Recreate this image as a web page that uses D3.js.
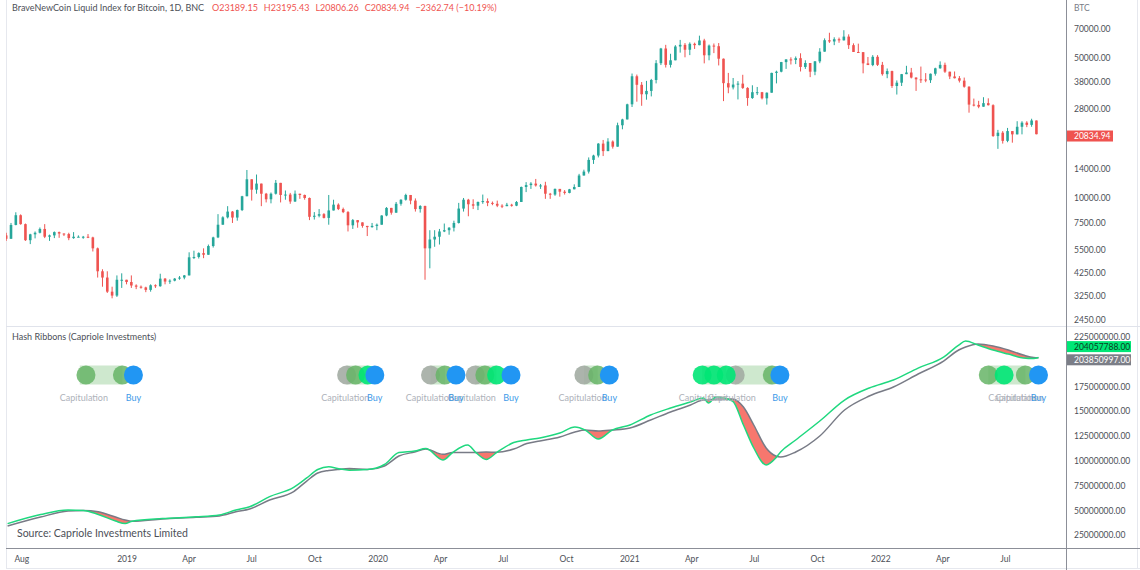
<!DOCTYPE html>
<html>
<head>
<meta charset="utf-8">
<script src="https://cdn.jsdelivr.net/npm/d3@7"></script>
<style>
  body { margin: 0; background: #fff; }
  svg { display: block; font-family: Lato, "Open Sans", sans-serif; }
</style>
</head>
<body>
<svg id="chart" width="1140" height="570"></svg>
<script>
// ---- price: weekly BNC candles, one per Friday from 2018-07-13, open = previous close
const firstWeek = '2018-07-13';
const firstOpen = 6500;
const close = [
  // 2018
  6250,7330,8200,7400,6150,6580,6700,7000,6400,6500,6750,6640,6600,6300,6400,6400,6400,6350,5600,4300,4000,3400,3250,3900,3900,
  // 2019
  3800,3650,3600,3570,3470,3660,3620,3950,3820,3860,3950,4000,4100,5050,5070,5300,5200,5750,6350,7350,8000,8550,7980,8700,10200,12400,
  11000,11800,10500,9850,10500,11900,10350,10400,9600,10500,10350,10000,8050,8150,8300,7950,8660,9260,8800,8500,7300,7750,7550,7250,7150,7250,
  // 2020
  7350,8170,8920,8440,9350,9800,10350,9700,8800,9120,5600,6200,6400,6800,6900,7100,7500,8850,9800,9300,9150,9550,9650,9450,9350,9150,
  9100,9250,9150,9550,11350,11600,11800,11550,11550,10500,10400,11100,10750,10600,11050,11350,12950,13550,15500,16300,18700,17150,19150,18050,23100,24700,
  // 2021
  29400,40600,36800,33000,34300,38900,47200,55900,46300,48800,57200,58300,55100,59000,58100,61300,51700,57800,57400,49700,37500,35700,36900,37300,35500,31600,
  33800,33800,31500,33600,42200,42800,47800,49300,49000,50000,45200,47300,42800,48200,53900,61500,60600,62200,61400,64100,58100,53700,53600,47100,46200,50800,46300,
  // 2022
  41600,43100,36300,37700,41600,42400,40000,39200,39100,38800,41800,44500,46300,42800,40500,39700,38600,36000,29300,29200,28600,29800,29100,20400,21200,19300,
  21600,20800,22700,23800,23200,24400,20834.94
];
const high = [
  6700,7500,8480,8280,7450,6620,6800,7120,7400,6560,6800,6790,6650,6700,6750,6500,6460,6600,6400,5650,4400,4300,3600,4100,4200,
  3900,4100,3700,3650,3600,3700,3700,4180,3980,3920,3980,4070,4120,5350,5450,5350,5600,5850,6400,8300,8100,9100,8600,8750,10250,13800,
  12400,13100,11800,10600,10650,12300,11900,10900,10600,10900,10500,10400,10050,8500,8800,8400,10350,9800,9400,8950,8600,7850,7750,7450,7250,7500,
  7450,8200,9000,8900,9550,9850,10500,10300,9950,9200,9150,6900,6900,7000,7450,7150,7700,9450,10000,9900,9850,9600,10400,9950,9600,9700,
  9300,9450,9350,9650,11400,12000,12000,12450,11750,12050,10600,11150,11000,10950,11100,11700,13200,13850,15950,16450,18800,19500,19900,19400,23800,24900,
  29600,41900,41400,38000,38500,39400,48900,56300,58300,52600,58100,61700,59500,60000,59800,64800,62500,58500,59200,59500,49800,42200,39800,38400,41300,35800,
  36600,35900,33900,33700,42300,43300,47900,49400,50500,51000,52900,48800,47300,48400,56100,62800,67000,63600,63400,69000,65800,59300,59100,53300,50700,51800,51800,
  47900,44400,43300,38700,41700,45800,44700,40100,45400,42100,41900,44800,48200,47500,42500,42900,40700,40000,36200,31400,30600,31900,31500,29400,21900,21600,
  22400,21000,24200,24200,24200,24900,24400
];
const low = [
  6100,6250,7300,7350,6100,5880,6280,6650,6300,6100,6300,6320,6450,6150,6250,6370,6250,6300,5400,4000,3600,3350,3150,3200,3550,
  3700,3550,3500,3520,3380,3400,3550,3600,3700,3720,3830,3900,3920,4100,4950,4980,5000,5200,5650,6300,7400,7900,7500,7700,8600,10200,
  9700,10500,9100,9500,9400,10400,9500,9800,9350,9550,9900,9800,7750,7800,8000,7900,7350,9000,8700,8400,6800,7000,7100,7100,6450,7100,
  6900,7350,8100,8250,8450,9150,9700,9300,8550,8450,3900,4450,5700,5850,6750,6550,6800,7450,8550,8100,8800,8700,9350,9100,9200,9000,
  8900,9100,9050,9100,9550,10700,11100,11400,11100,9900,9900,10250,10150,10400,10550,11200,11400,12950,13250,14800,15950,16200,17400,17650,18300,22050,
  25800,28500,30300,28900,31000,32200,37400,46200,44900,44900,49200,53300,50500,51800,55600,58000,47100,48800,53000,46000,30500,33400,34900,31100,35100,28900,
  31300,32700,31100,29300,33600,37400,42500,44200,46500,46700,42900,44200,40200,41100,47200,53900,59600,58100,59700,61300,55600,53700,53500,42000,46200,45600,45700,
  40900,39700,35500,32900,36300,41900,39600,34300,37600,37900,37600,40900,44300,42200,39300,39600,37800,35600,26700,28700,28100,28800,29000,20200,17600,18700,
  19000,18900,20800,20800,22600,22700,20806.26
];
// last daily bar shown in the header
const lastBar = [23189.15, 23195.43, 20806.26, 20834.94];
const lastChange = [-2362.74, -10.19];

// ---- hash ribbons (30d / 60d SMA of hash rate, in millions of TH/s)
const hashDates = [
  '2018-07-12','2018-08-29','2018-10-08','2018-10-30','2018-11-21','2018-12-16','2018-12-30',
  '2019-01-09','2019-02-22','2019-04-12','2019-05-16','2019-06-09','2019-06-29','2019-07-28','2019-09-01','2019-09-20','2019-10-06','2019-10-22','2019-11-04','2019-11-21','2019-12-17',
  '2020-01-11','2020-02-01','2020-02-24','2020-03-11','2020-04-05','2020-04-19','2020-05-11','2020-05-23','2020-06-07','2020-06-22','2020-07-17','2020-08-05','2020-08-24','2020-09-22','2020-10-14','2020-10-29','2020-11-17','2020-12-07',
  '2021-01-02','2021-02-01','2021-03-02','2021-03-31','2021-04-19','2021-04-26','2021-05-07','2021-05-31','2021-06-16','2021-07-01','2021-07-19','2021-08-02','2021-08-09','2021-08-31','2021-10-05','2021-11-10','2021-12-16',
  '2022-01-20','2022-02-25','2022-04-03','2022-04-25','2022-05-05','2022-05-23','2022-06-14','2022-07-06','2022-07-28','2022-08-12','2022-08-19'
];
const hashFast = [
  36.7,45.9,50.4,50.0,45.9,39.3,36.7,
  39.1,41.8,43.5,45.4,50.4,53.7,63.9,73.2,82.7,91.2,93.9,92.2,90.6,91.2,
  96.3,108.3,109.9,112.3,100.8,108.3,115.9,108.3,101.4,108.3,118.4,121.0,123.0,128.0,134.1,131.0,122.0,131.0,
  136.1,146.2,153.2,159.3,163.3,158.3,164.3,160.3,136.1,112.9,95.8,102.8,108.9,121.0,140.1,161.3,173.4,
  181.4,193.5,204.6,216.7,220.8,216.7,211.7,207.6,203.6,203.1,204.057788
];
const hashSlow = [
  34.3,43.3,49.4,50.0,48.6,43.3,40.3,
  39.1,41.3,43.0,44.4,48.6,51.4,60.5,69.0,79.6,87.7,90.2,91.2,92.2,91.2,
  94.8,104.8,108.9,111.9,106.5,108.3,108.3,108.3,108.9,108.6,111.9,117.4,120.0,124.0,129.0,131.0,130.0,131.0,
  133.1,141.1,149.2,156.2,161.3,161.3,162.3,162.3,154.2,136.1,112.9,104.8,103.8,108.9,125.0,151.2,165.3,
  174.4,187.5,200.6,211.7,214.7,217.7,215.7,211.7,206.6,204.1,203.850997
];

// ---- signal shapes
const capBands = [['2018-10-25','2018-12-26'],['2019-11-17','2019-12-18'],['2020-03-18','2020-04-08'],['2020-05-22','2020-06-22'],
  ['2020-10-27','2020-11-16'],['2021-04-17','2021-05-22'],['2021-06-04','2021-07-28'],['2022-06-07','2022-07-31']];
const grayDots = ['2019-11-17','2020-03-18','2020-05-22','2020-10-27','2021-06-04'];
const greenDots = ['2018-11-03','2018-12-26','2019-11-30','2020-04-08','2020-06-05','2020-11-16','2021-07-28','2022-06-07','2022-07-31'];
const limeDots = ['2019-12-18','2020-06-22','2021-04-17','2021-05-04','2021-05-22','2022-06-30'];
const buyDates = ['2019-01-11','2019-12-28','2020-04-24','2020-07-13','2020-12-03','2021-08-08','2022-08-19'];
const capLabelDates = ['2018-10-31','2019-11-15','2020-03-17','2020-05-17','2020-10-25','2021-04-18','2021-05-30','2022-07-12','2022-07-22'];

// ---- axes
const priceTicks = [70000, 50000, 38000, 28000, 20000, 14000, 10000, 7500, 5500, 4250, 3250, 2450];
const hashTicks = [25, 50, 75, 100, 125, 150, 175, 200, 225];
const timeTicks = ['2018-08-01','2019-01-01','2019-04-01','2019-07-01','2019-10-01','2020-01-01','2020-04-01','2020-07-01',
  '2020-10-01','2021-01-01','2021-04-01','2021-07-01','2021-10-01','2022-01-01','2022-04-01','2022-07-01'];

const W = 1140, H = 570;
const plotRight = 1066;
const price = { top: 0, bottom: 326 };
const hash = { top: 327, bottom: 548 };
const textColor = '#4c4f57';

const parse = d3.utcParse('%Y-%m-%d');
const svg = d3.select('#chart');
svg.append('rect').attr('width', W).attr('height', H).attr('fill', '#fff');

const x = d3.scaleUtc()
  .domain([parse('2018-07-01'), parse('2022-09-28')])
  .range([0, plotRight]);
const yPrice = d3.scaleLog().domain([2290, 97700]).range([price.bottom, price.top]);
const yHash = d3.scaleLinear().domain([12.1, 234.9]).range([hash.bottom, hash.top]);

const defs = svg.append('defs');
defs.append('clipPath').attr('id', 'clip-price')
  .append('rect').attr('x', 6).attr('y', price.top).attr('width', plotRight - 6).attr('height', price.bottom - price.top);
defs.append('clipPath').attr('id', 'clip-hash')
  .append('rect').attr('x', 6).attr('y', hash.top).attr('width', plotRight - 6).attr('height', hash.bottom - hash.top);

// frame lines
const frame = svg.append('g').attr('stroke-width', 1);
frame.append('line').attr('x1', 6.5).attr('x2', 6.5).attr('y1', 0).attr('y2', 568).attr('stroke', '#e6e8ee');
frame.append('line').attr('x1', 1137.5).attr('x2', 1137.5).attr('y1', 0).attr('y2', 568).attr('stroke', '#e6e8ee');
frame.append('line').attr('x1', 6).attr('x2', W).attr('y1', 326.5).attr('y2', 326.5).attr('stroke', '#e0e3eb');
frame.append('line').attr('x1', 6).attr('x2', W).attr('y1', 568.5).attr('y2', 568.5).attr('stroke', '#e6e8ee');
frame.append('line').attr('x1', 6).attr('x2', W).attr('y1', 548.5).attr('y2', 548.5).attr('stroke', '#8c8f98');
frame.append('line').attr('x1', plotRight + 0.5).attr('x2', plotRight + 0.5).attr('y1', 0).attr('y2', H).attr('stroke', '#8c8f98');

// ---- candles
const candles = close.map((c, i) => ({
  date: d3.utcDay.offset(parse(firstWeek), 7 * i - 3),
  open: i ? close[i - 1] : firstOpen,
  close: c,
  high: high[i],
  low: low[i]
}));

const upColor = '#26a69a', downColor = '#ef5350';
const candleG = svg.append('g').attr('clip-path', 'url(#clip-price)');
candleG.selectAll('line.wick')
  .data(candles)
  .join('line')
  .attr('class', 'wick')
  .attr('x1', d => x(d.date)).attr('x2', d => x(d.date))
  .attr('y1', d => yPrice(Math.max(d.high, d.open, d.close)))
  .attr('y2', d => yPrice(Math.min(d.low, d.open, d.close)))
  .attr('stroke', d => d.close >= d.open ? upColor : downColor)
  .attr('stroke-width', 1);
candleG.selectAll('rect.body')
  .data(candles)
  .join('rect')
  .attr('class', 'body')
  .attr('x', d => x(d.date) - 1.3)
  .attr('width', 2.6)
  .attr('y', d => yPrice(Math.max(d.open, d.close)))
  .attr('height', d => Math.max(1, Math.abs(yPrice(d.open) - yPrice(d.close))))
  .attr('fill', d => d.close >= d.open ? upColor : downColor);

// ---- hash ribbons
const ribbon = hashDates.map((d, i) => ({ date: parse(d), fast: hashFast[i], slow: hashSlow[i] }));
const curve = d3.curveMonotoneX;

// clip = everything below the slow line; fill = everything above the fast line -> red where fast < slow
defs.append('clipPath').attr('id', 'below-slow')
  .append('path')
  .attr('d', d3.area().curve(curve).x(d => x(d.date)).y0(hash.bottom).y1(d => yHash(d.slow))(ribbon));

const hashG = svg.append('g').attr('clip-path', 'url(#clip-hash)');
hashG.append('g').attr('clip-path', 'url(#below-slow)')
  .append('path')
  .attr('d', d3.area().curve(curve).x(d => x(d.date)).y0(d => yHash(d.fast)).y1(hash.top)(ribbon))
  .attr('fill', '#f44336')
  .attr('fill-opacity', 0.72);

hashG.append('path')
  .attr('d', d3.line().curve(curve).x(d => x(d.date)).y(d => yHash(d.slow))(ribbon))
  .attr('fill', 'none').attr('stroke', '#787b86').attr('stroke-width', 1.5);
hashG.append('path')
  .attr('d', d3.line().curve(curve).x(d => x(d.date)).y(d => yHash(d.fast))(ribbon))
  .attr('fill', 'none').attr('stroke', '#1fd87f').attr('stroke-width', 1.5);

// ---- signal circles and labels
const dotY = 375, dotR = 9.5, labelY = 400.5;
const sig = svg.append('g');
sig.selectAll('rect.band')
  .data(capBands)
  .join('rect')
  .attr('x', d => x(parse(d[0])))
  .attr('width', d => x(parse(d[1])) - x(parse(d[0])))
  .attr('y', dotY - dotR).attr('height', dotR * 2)
  .attr('fill', '#c5e4c6').attr('fill-opacity', 0.85);

function dots(list, color, opacity) {
  sig.append('g').selectAll('circle')
    .data(list)
    .join('circle')
    .attr('cx', d => x(parse(d)))
    .attr('cy', dotY)
    .attr('r', dotR)
    .attr('fill', color)
    .attr('fill-opacity', opacity);
}
dots(grayDots, '#a3aca3', 0.9);
dots(greenDots, '#66b466', 0.85);
dots(limeDots, '#00e676', 0.9);
dots(buyDates, '#2196f3', 1);

sig.append('g').selectAll('text')
  .data(capLabelDates)
  .join('text')
  .attr('x', d => x(parse(d)))
  .attr('y', labelY)
  .attr('text-anchor', 'middle')
  .attr('font-size', 9)
  .attr('fill', '#aeb2ba')
  .text('Capitulation');
sig.append('g').selectAll('text')
  .data(buyDates)
  .join('text')
  .attr('x', d => x(parse(d)))
  .attr('y', labelY)
  .attr('text-anchor', 'middle')
  .attr('font-size', 9)
  .attr('fill', '#3d9ae8')
  .text('Buy');

// ---- axes
const priceAxis = svg.append('g')
  .attr('transform', `translate(${plotRight},0)`)
  .call(d3.axisRight(yPrice).tickValues(priceTicks).tickFormat(d3.format('.2f')).tickSize(0).tickPadding(8));
const hashAxis = svg.append('g')
  .attr('transform', `translate(${plotRight},0)`)
  .call(d3.axisRight(yHash).tickValues(hashTicks).tickFormat(d => (d * 1e6).toFixed(2)).tickSize(0).tickPadding(8));
const fmtMonth = d3.utcFormat('%b'), fmtYear = d3.utcFormat('%Y');
const timeAxis = svg.append('g')
  .attr('transform', `translate(0,${hash.bottom})`)
  .call(d3.axisBottom(x).tickValues(timeTicks.map(parse))
    .tickFormat(d => d.getUTCMonth() === 0 ? fmtYear(d) : fmtMonth(d)).tickSize(0).tickPadding(8));
[priceAxis, hashAxis, timeAxis].forEach(g => {
  g.select('.domain').remove();
  g.selectAll('text').attr('font-family', 'Lato, sans-serif').attr('font-size', 8.5).attr('fill', textColor);
});

svg.append('text').attr('x', plotRight + 8).attr('y', 11).attr('font-size', 8.5).attr('fill', '#787b86').text('BTC');

// last value labels on the scales
function scaleLabel(cy, fill, textFill, label, w) {
  svg.append('rect').attr('x', plotRight + 1).attr('y', cy - 5.5).attr('width', w).attr('height', 11).attr('fill', fill);
  svg.append('text').attr('x', plotRight + 8).attr('y', cy + 3.2).attr('font-size', 8.5).attr('fill', textFill).text(label);
}
scaleLabel(yPrice(lastBar[3]) + 1.8, '#ef5350', '#fff', d3.format('.2f')(lastBar[3]), 46);
scaleLabel(yHash(hashFast[hashFast.length - 1]) - 11, '#00e676', '#0b3d22', (hashFast[hashFast.length - 1] * 1e6).toFixed(2), 64);
scaleLabel(yHash(hashSlow[hashSlow.length - 1]) + 2, '#7b7e87', '#fff', (hashSlow[hashSlow.length - 1] * 1e6).toFixed(2), 64);

// ---- titles
const header = svg.append('text').attr('x', 12).attr('y', 10.5).attr('font-size', 9);
header.append('tspan').attr('fill', textColor).text('BraveNewCoin Liquid Index for Bitcoin, 1D, BNC');
const fmt2 = d3.format('.2f');
['O', 'H', 'L', 'C'].forEach((k, i) => {
  header.append('tspan').attr('dx', i ? 6 : 8).attr('fill', '#ef5350').text(k + fmt2(lastBar[i]));
});
header.append('tspan').attr('dx', 6).attr('fill', '#ef5350')
  .text(`\u2212${fmt2(-lastChange[0])} (\u2212${fmt2(-lastChange[1])}%)`);

svg.append('text').attr('x', 12).attr('y', 340).attr('font-size', 9).attr('fill', textColor)
  .text('Hash Ribbons (Capriole Investments)');
svg.append('text').attr('x', 17).attr('y', 537).attr('font-size', 10.5).attr('fill', textColor)
  .text('Source: Capriole Investments Limited');
</script>
</body>
</html>
